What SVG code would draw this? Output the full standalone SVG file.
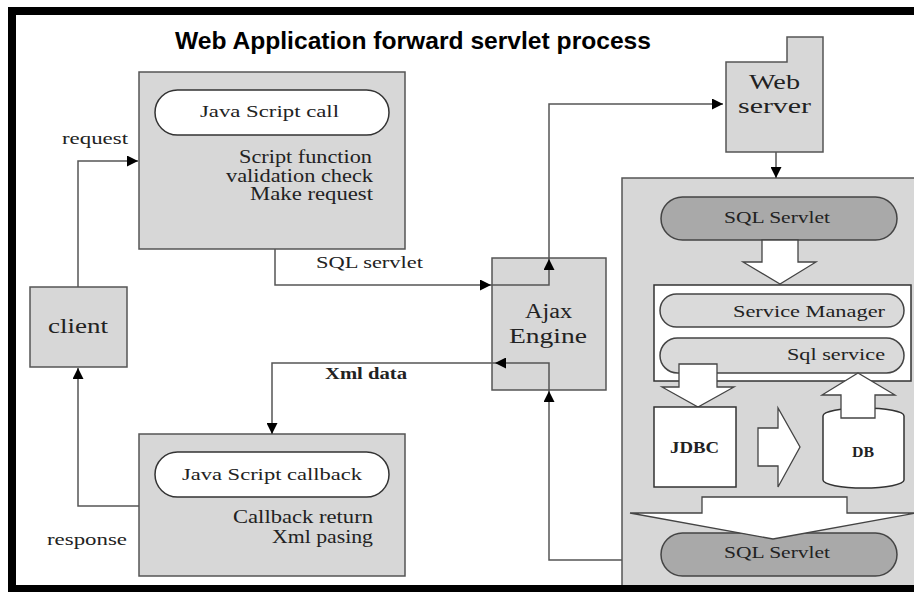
<svg xmlns="http://www.w3.org/2000/svg" width="914" height="592" viewBox="0 0 914 592">
<defs>
<style>
.box{fill:#d7d7d7;stroke:#555;stroke-width:1.5}
.pillw{fill:#fff;stroke:#333;stroke-width:1.5}
.pillg{fill:#a9a9a9;stroke:#444;stroke-width:1.5}
.pilll{fill:#dadada;stroke:#444;stroke-width:1.5}
.white{fill:#fff;stroke:#333;stroke-width:1.5}
.hollow{fill:#fff;stroke:#444;stroke-width:1.3}
.t{font-family:"Liberation Serif","DejaVu Serif",serif;fill:#222}
.title{font-family:"Liberation Sans",Arial,sans-serif;font-weight:bold;font-size:24px;fill:#000}
.conn{fill:none;stroke:#555;stroke-width:1.5}
</style>
<marker id="ah" viewBox="0 0 10 10" refX="10" refY="5" markerWidth="13" markerHeight="11" markerUnits="userSpaceOnUse" orient="auto">
<path d="M0,0 L10,5 L0,10 z" fill="#000"/>
</marker>
</defs>
<rect x="0" y="0" width="914" height="592" fill="#fff"/>

<text class="title" x="175" y="49" textLength="476" lengthAdjust="spacingAndGlyphs">Web Application forward servlet process</text>

<g id="js-call">
<rect class="box" x="139" y="72" width="266" height="177"/>
<rect class="pillw" x="155" y="90" width="234" height="45" rx="22.5"/>
<text class="t" x="200" y="117" font-size="17" textLength="139" lengthAdjust="spacingAndGlyphs">Java Script call</text>
<text class="t" x="372" y="163" font-size="18" text-anchor="end" textLength="133" lengthAdjust="spacingAndGlyphs">Script function</text>
<text class="t" x="373" y="182" font-size="18" text-anchor="end" textLength="147" lengthAdjust="spacingAndGlyphs">validation check</text>
<text class="t" x="373" y="200" font-size="18" text-anchor="end" textLength="123" lengthAdjust="spacingAndGlyphs">Make request</text>
</g>

<g id="client">
<rect class="box" x="30" y="287" width="97" height="80"/>
<text class="t" x="48" y="333" font-size="21" textLength="60" lengthAdjust="spacingAndGlyphs">client</text>
</g>

<g id="js-callback">
<rect class="box" x="139" y="434" width="266" height="142"/>
<rect class="pillw" x="155" y="452" width="234" height="45" rx="22.5"/>
<text class="t" x="182" y="480" font-size="17" textLength="180" lengthAdjust="spacingAndGlyphs">Java Script callback</text>
<text class="t" x="373" y="523" font-size="18" text-anchor="end" textLength="140" lengthAdjust="spacingAndGlyphs">Callback return</text>
<text class="t" x="373" y="543" font-size="18" text-anchor="end" textLength="101" lengthAdjust="spacingAndGlyphs">Xml pasing</text>
</g>

<g id="ajax-engine">
<rect class="box" x="492" y="258" width="114" height="132"/>
<text class="t" x="525" y="318" font-size="20" textLength="47" lengthAdjust="spacingAndGlyphs">Ajax</text>
<text class="t" x="509" y="343" font-size="20" textLength="78" lengthAdjust="spacingAndGlyphs">Engine</text>
</g>

<g id="web-server">
<polygon class="box" points="726,62 787,62 787,37 823,37 823,152 726,152"/>
<text class="t" x="749" y="89" font-size="21" textLength="51" lengthAdjust="spacingAndGlyphs">Web</text>
<text class="t" x="738" y="113" font-size="21" textLength="73" lengthAdjust="spacingAndGlyphs">server</text>
</g>

<g id="server-panel">
<rect class="box" x="622" y="178" width="310" height="430"/>
</g>

<g id="sql-servlet-top">
<rect class="pillg" x="661" y="197" width="236" height="43" rx="21.5"/>
<text class="t" x="724" y="223" font-size="17" textLength="106" lengthAdjust="spacingAndGlyphs">SQL Servlet</text>
</g>

<g id="arrow-servlet-to-manager">
<polygon class="hollow" points="762,240 798,240 798,262 816,262 780,284 743,262 762,262"/>
</g>

<g id="service-group">
<rect class="white" x="654" y="285" width="257" height="96"/>
</g>

<g id="service-manager">
<rect class="pilll" x="660" y="294" width="244" height="33" rx="16.5"/>
<text class="t" x="885" y="317" font-size="17" text-anchor="end" textLength="152" lengthAdjust="spacingAndGlyphs">Service Manager</text>
</g>

<g id="sql-service">
<rect class="pilll" x="660" y="338" width="244" height="35" rx="17.5"/>
<text class="t" x="885" y="360" font-size="17" text-anchor="end" textLength="98" lengthAdjust="spacingAndGlyphs">Sql service</text>
</g>

<g id="arrow-service-to-jdbc">
<polygon class="hollow" points="679,364 717,364 717,387 734,387 698,407 662,387 679,387"/>
</g>

<g id="jdbc">
<rect class="white" x="654" y="407" width="82" height="80"/>
<text class="t" x="670" y="453" font-size="17" font-weight="bold" textLength="49" lengthAdjust="spacingAndGlyphs">JDBC</text>
</g>

<g id="arrow-jdbc-to-db">
<polygon class="hollow" points="758,428 778,428 778,408 800,447 778,487 778,466 758,466"/>
</g>

<g id="db">
<path class="white" d="M823,416 A40.5,8 0 0 1 904,416 V480 A40.5,8 0 0 1 823,480 Z"/>
<text class="t" x="852" y="457" font-size="14" font-weight="bold" textLength="22" lengthAdjust="spacingAndGlyphs">DB</text>
</g>

<g id="arrow-db-to-service">
<polygon class="hollow" points="841,418 875,418 875,395 895,395 858,373 822,395 841,395"/>
</g>

<g id="sql-servlet-bottom">
<rect class="pillg" x="661" y="533" width="236" height="43" rx="21.5"/>
<text class="t" x="724" y="558" font-size="17" textLength="106" lengthAdjust="spacingAndGlyphs">SQL Servlet</text>
</g>

<g id="arrow-to-servlet-bottom">
<polygon class="hollow" points="702,497 847,497 847,513 916,513 773,539 630,513 702,513"/>
</g>

<g id="connectors">
<path class="conn" d="M78,287 V161 H138" marker-end="url(#ah)"/>
<path class="conn" d="M275,249 V285 H491" marker-end="url(#ah)"/>
<path class="conn" d="M491,285 H549 V259" marker-end="url(#ah)"/>
<path class="conn" d="M549,259 V104 H723" marker-end="url(#ah)"/>
<path class="conn" d="M776,152 V178" marker-end="url(#ah)"/>
<path class="conn" d="M622,560 H549 V391" marker-end="url(#ah)"/>
<path class="conn" d="M549,391 V363 H495" marker-end="url(#ah)"/>
<path class="conn" d="M495,363 H272 V434" marker-end="url(#ah)"/>
<path class="conn" d="M139,506 H78 V368" marker-end="url(#ah)"/>
</g>

<g id="labels">
<text class="t" x="62" y="144" font-size="16" textLength="66" lengthAdjust="spacingAndGlyphs">request</text>
<text class="t" x="316" y="268" font-size="16" textLength="107" lengthAdjust="spacingAndGlyphs">SQL servlet</text>
<text class="t" x="325" y="379" font-size="16" font-weight="bold" textLength="82" lengthAdjust="spacingAndGlyphs">Xml data</text>
<text class="t" x="47" y="545" font-size="16" textLength="80" lengthAdjust="spacingAndGlyphs">response</text>
</g>

<g id="frame" fill="#000">
<rect x="8" y="7" width="906" height="8"/>
<rect x="8" y="7" width="8" height="585"/>
<rect x="8" y="585" width="906" height="7"/>
</g>
</svg>
